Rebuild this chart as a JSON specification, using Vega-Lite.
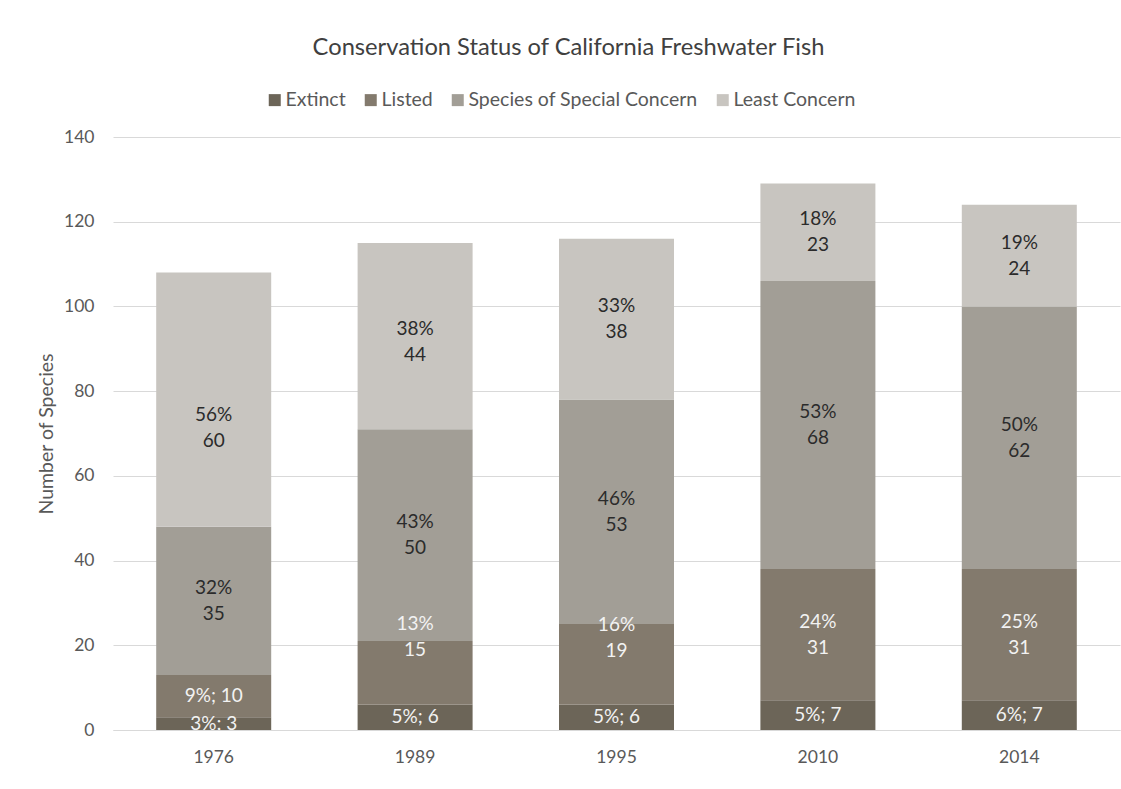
{
  "$schema": "https://vega.github.io/schema/vega-lite/v6.json",
  "width": 1007,
  "height": 593,
  "autosize": "none",
  "padding": {"left": 113, "top": 137, "right": 1, "bottom": 59},
  "background": "white",
  "config": {"font": "Lato", "view": {"stroke": null}},
  "title": {
    "text": "Conservation Status of California Freshwater Fish",
    "frame": "group",
    "anchor": "middle",
    "dx": -48,
    "offset": 30,
    "fontSize": 23.7,
    "fontWeight": "normal",
    "color": "#404040"
  },
  "data": {
    "values": [
      {"year": "1976", "status": "Extinct", "rank": 1, "count": 3, "label": "3%; 3"},
      {"year": "1976", "status": "Listed", "rank": 2, "count": 10, "label": "9%; 10"},
      {"year": "1976", "status": "Species of Special Concern", "rank": 3, "count": 35, "label": "32%\n35"},
      {"year": "1976", "status": "Least Concern", "rank": 4, "count": 60, "label": "56%\n60"},
      {"year": "1989", "status": "Extinct", "rank": 1, "count": 6, "label": "5%; 6"},
      {"year": "1989", "status": "Listed", "rank": 2, "count": 15, "label": "13%\n15"},
      {"year": "1989", "status": "Species of Special Concern", "rank": 3, "count": 50, "label": "43%\n50"},
      {"year": "1989", "status": "Least Concern", "rank": 4, "count": 44, "label": "38%\n44"},
      {"year": "1995", "status": "Extinct", "rank": 1, "count": 6, "label": "5%; 6"},
      {"year": "1995", "status": "Listed", "rank": 2, "count": 19, "label": "16%\n19"},
      {"year": "1995", "status": "Species of Special Concern", "rank": 3, "count": 53, "label": "46%\n53"},
      {"year": "1995", "status": "Least Concern", "rank": 4, "count": 38, "label": "33%\n38"},
      {"year": "2010", "status": "Extinct", "rank": 1, "count": 7, "label": "5%; 7"},
      {"year": "2010", "status": "Listed", "rank": 2, "count": 31, "label": "24%\n31"},
      {"year": "2010", "status": "Species of Special Concern", "rank": 3, "count": 68, "label": "53%\n68"},
      {"year": "2010", "status": "Least Concern", "rank": 4, "count": 23, "label": "18%\n23"},
      {"year": "2014", "status": "Extinct", "rank": 1, "count": 7, "label": "6%; 7"},
      {"year": "2014", "status": "Listed", "rank": 2, "count": 31, "label": "25%\n31"},
      {"year": "2014", "status": "Species of Special Concern", "rank": 3, "count": 62, "label": "50%\n62"},
      {"year": "2014", "status": "Least Concern", "rank": 4, "count": 24, "label": "19%\n24"}
    ]
  },
  "encoding": {
    "x": {
      "field": "year",
      "type": "nominal",
      "scale": {"paddingInner": 0.429, "paddingOuter": 0.2145},
      "axis": {
        "title": null,
        "labelAngle": 0,
        "domain": true,
        "domainColor": "#d9d9d9",
        "domainWidth": 1,
        "ticks": false,
        "grid": false,
        "labelPadding": 18,
        "labelFontSize": 17.5,
        "labelColor": "#595959"
      }
    }
  },
  "layer": [
    {
      "mark": {"type": "bar"},
      "encoding": {
        "y": {
          "field": "count",
          "type": "quantitative",
          "stack": "zero",
          "scale": {"domain": [0, 140], "nice": false},
          "axis": {
            "values": [0, 20, 40, 60, 80, 100, 120, 140],
            "grid": true,
            "gridColor": "#d9d9d9",
            "gridWidth": 1,
            "domain": false,
            "ticks": false,
            "labelPadding": 19,
            "labelFontSize": 17.5,
            "labelColor": "#595959",
            "title": "Number of Species",
            "titleFontSize": 19.5,
            "titleFontWeight": "normal",
            "titleColor": "#595959",
            "titlePadding": 7
          }
        },
        "color": {
          "field": "status",
          "type": "nominal",
          "scale": {
            "domain": ["Extinct", "Listed", "Species of Special Concern", "Least Concern"],
            "range": ["#6c6558", "#837a6d", "#a29e96", "#c8c5c0"]
          },
          "legend": {
            "orient": "none",
            "legendX": 152,
            "legendY": -47,
            "direction": "horizontal",
            "title": null,
            "symbolType": "square",
            "symbolSize": 144,
            "symbolStrokeWidth": 0,
            "labelFontSize": 19.5,
            "labelLimit": 0,
            "labelColor": "#595959",
            "columnPadding": 15,
            "labelOffset": 1
          }
        },
        "order": {"field": "rank", "type": "quantitative"}
      }
    },
    {
      "mark": {
        "type": "text",
        "lineBreak": "\n",
        "fontSize": 19,
        "lineHeight": 26,
        "baseline": "middle",
        "align": "center",
        "clip": true,
        "dy": {"expr": "(datum.status === 'Extinct' || (datum.year === '1976' && datum.status === 'Listed')) ? 0 : (datum.year === '1989' && datum.status === 'Listed') ? -49 : (datum.year === '1995' && datum.status === 'Listed') ? -39 : (datum.year === '1976' && datum.status === 'Least Concern') ? 15 : (datum.year === '1989' && datum.status === 'Least Concern') ? -7 : -13"}
      },
      "encoding": {
        "y": {"field": "count", "type": "quantitative", "stack": "zero", "bandPosition": 0.5},
        "detail": {"field": "status"},
        "order": {"field": "rank", "type": "quantitative"},
        "text": {"field": "label"},
        "color": {
          "condition": {"test": "datum.status === 'Extinct' || datum.status === 'Listed'", "value": "#f2f2f2"},
          "value": "#2b2b2b"
        }
      }
    }
  ]
}
